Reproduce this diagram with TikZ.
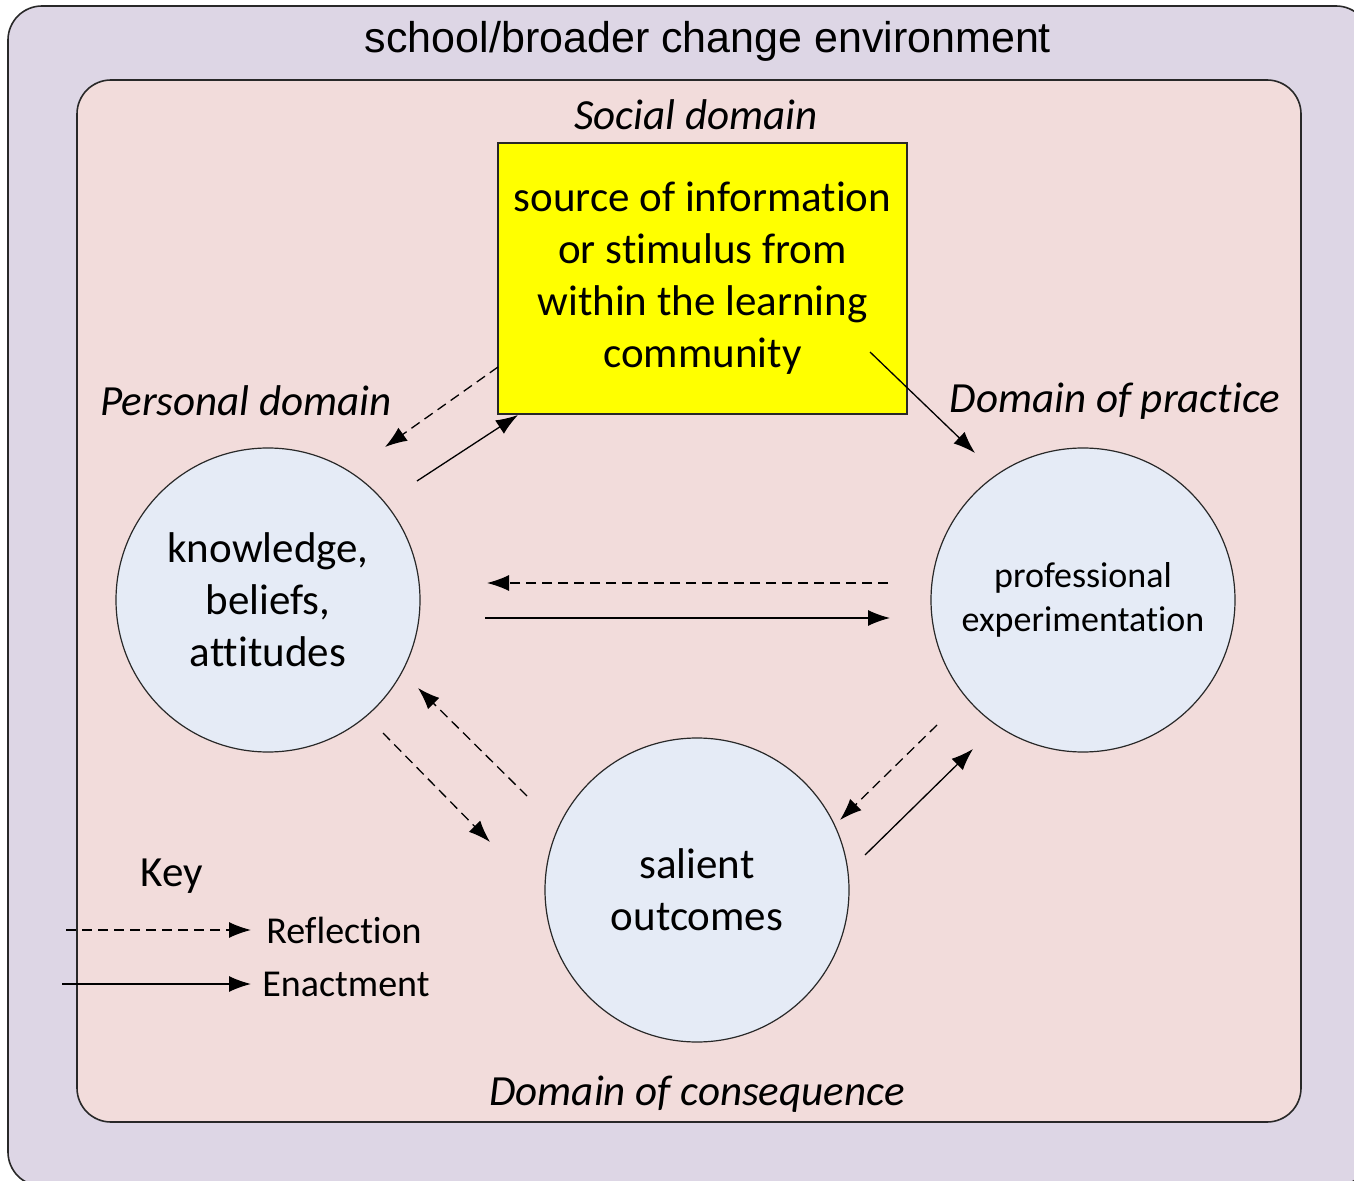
\documentclass[tikz,border=0pt]{standalone}
\usepackage{fontspec}
\setmainfont[Ligatures=NoCommon]{Carlito}
\newfontfamily\arialf{Liberation Sans}
\usetikzlibrary{arrows.meta}
\definecolor{outerfill}{RGB}{221,214,229}
\definecolor{innerfill}{RGB}{242,220,219}
\definecolor{circfill}{RGB}{229,235,246}
\definecolor{boxyellow}{RGB}{255,255,0}
\definecolor{edgegray}{RGB}{40,40,40}
\begin{document}
\begin{tikzpicture}[x=0.5pt,y=-0.5pt,
  bigfont/.style={font=\fontsize{21.5}{26}\selectfont},
  midfont/.style={font=\fontsize{18}{22}\selectfont},
  keyfont/.style={font=\fontsize{19}{23}\selectfont},
  circ/.style={circle,draw=edgegray,line width=0.6pt,fill=circfill,minimum size=152pt,inner sep=0pt,align=center},
  ybox/.style={rectangle,draw=edgegray,line width=0.7pt,fill=boxyellow,minimum width=204.5pt,minimum height=135.5pt,inner sep=0pt,align=center,bigfont},
  lab/.style={inner sep=0pt,bigfont},
  tipped/.style={line width=0.65pt,-{Latex[length=11pt,width=8pt]}},
  refl/.style={tipped,dash pattern=on 5pt off 3pt},
  enact/.style={tipped}
]
\useasboundingbox (0,0) rectangle (1354,1181);
% outer and inner domains
\draw[draw=edgegray,line width=0.8pt,fill=outerfill,rounded corners=17pt] (8,6) rectangle (1370,1186);
\draw[draw=edgegray,line width=0.8pt,fill=innerfill,rounded corners=17pt] (77,80) rectangle (1301,1122);
\node[lab,font=\arialf\fontsize{21.5}{26}\selectfont] (env) at (708,41) {school/broader change environment};

% labels
\node[lab,font=\itshape\fontsize{21.5}{26}\selectfont] (soc) at (696,115) {Social domain};
\node[lab,font=\itshape\fontsize{21.5}{26}\selectfont] (pers) at (246,401) {Personal domain};
\node[lab,font=\itshape\fontsize{21.5}{26}\selectfont] (prac) at (1115,401) {Domain of practice};
\node[lab,font=\itshape\fontsize{21.5}{26}\selectfont] (cons) at (697,1094) {Domain of consequence};

% main nodes
\node[ybox] (src) at (702.5,278.5) {source of information\\or stimulus from\\within the learning\\community};
\node[circ,bigfont] (kba) at (268,600) {knowledge,\\beliefs,\\attitudes};
\node[circ,midfont] (pe) at (1083,600) {professional\\experimentation};
\node[circ,bigfont] (so) at (697,890) {salient\\outcomes};

% connector endpoints
\coordinate (a1s) at (498,367); \coordinate (a1e) at (385,447);
\coordinate (a2s) at (417,481); \coordinate (a2e) at (518,415);
\coordinate (a3s) at (870,352); \coordinate (a3e) at (975,453);
\coordinate (a4s) at (888,583); \coordinate (a4e) at (487,583);
\coordinate (a5s) at (485,618); \coordinate (a5e) at (890,618);
\coordinate (a6s) at (527,796); \coordinate (a6e) at (418,688);
\coordinate (a7s) at (383,733); \coordinate (a7e) at (490,842);
\coordinate (a8s) at (937,725); \coordinate (a8e) at (840,820);
\coordinate (a9s) at (865,855); \coordinate (a9e) at (973,749);

\draw[refl] (a1s) -- (a1e);
\draw[enact] (a2s) -- (a2e);
\draw[enact] (a3s) -- (a3e);
\draw[refl] (a4s) -- (a4e);
\draw[enact] (a5s) -- (a5e);
\draw[refl] (a6s) -- (a6e);
\draw[refl] (a7s) -- (a7e);
\draw[refl] (a8s) -- (a8e);
\draw[enact] (a9s) -- (a9e);

% key
\node[lab,font=\fontsize{21.5}{26}\selectfont] (key) at (171.5,876) {Key};
\node[lab,keyfont,anchor=west] (kr) at (266,930) {Reflection};
\node[lab,keyfont,anchor=west] (ke) at (262,984) {Enactment};
\coordinate (k1s) at (66,930); \coordinate (k1e) at (251,930);
\coordinate (k2s) at (62,984); \coordinate (k2e) at (251,984);
\draw[refl] (k1s) -- (k1e);
\draw[enact] (k2s) -- (k2e);
\end{tikzpicture}
\end{document}
